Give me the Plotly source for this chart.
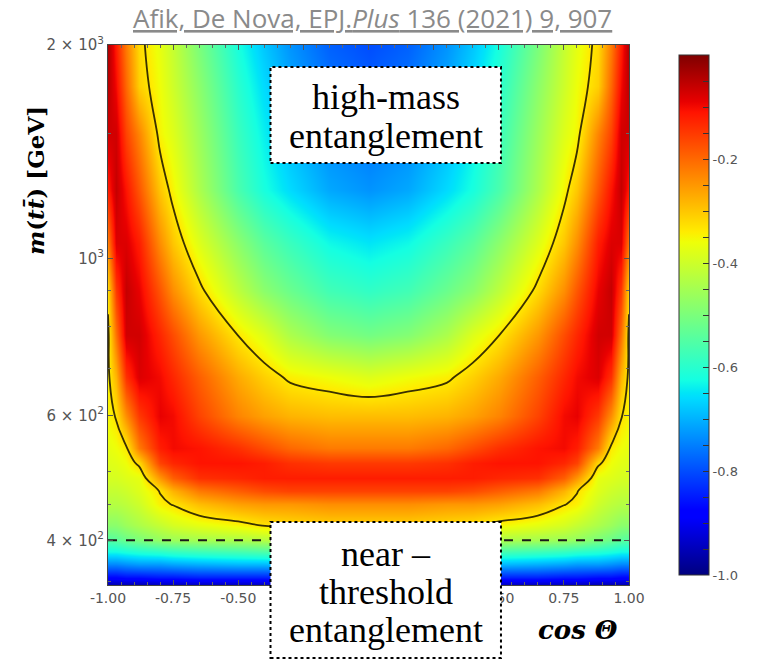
import plotly.graph_objects as go

# cos(theta) grid and invariant-mass grid (GeV)
cos_theta = [-1, -0.97, -0.93, -0.88, -0.8, -0.75, -0.65, -0.5, -0.4, -0.3, -0.15, 0,
             0.15, 0.3, 0.4, 0.5, 0.65, 0.75, 0.8, 0.88, 0.93, 0.97, 1]
mass = [346, 355, 370, 385, 400, 420, 450, 470, 490, 515, 540, 600,
        680, 780, 900, 1050, 1250, 1500, 1750, 2000]

# entanglement marker D, one row per mass value (columns follow cos_theta)
D_346 = [-0.96, -0.96, -0.96, -0.96, -0.95, -0.95, -0.95, -0.95, -0.95, -0.95, -0.95, -0.95, -0.95, -0.95, -0.95, -0.95, -0.95, -0.95, -0.95, -0.96, -0.96, -0.96, -0.96]
D_355 = [-0.87, -0.87, -0.86, -0.86, -0.85, -0.85, -0.84, -0.84, -0.84, -0.84, -0.84, -0.84, -0.84, -0.84, -0.84, -0.84, -0.84, -0.85, -0.85, -0.86, -0.86, -0.87, -0.87]
D_370 = [-0.74, -0.74, -0.73, -0.72, -0.72, -0.71, -0.70, -0.69, -0.69, -0.68, -0.68, -0.68, -0.68, -0.68, -0.69, -0.69, -0.70, -0.71, -0.72, -0.72, -0.73, -0.74, -0.74]
D_385 = [-0.63, -0.63, -0.62, -0.61, -0.60, -0.59, -0.58, -0.57, -0.56, -0.55, -0.55, -0.55, -0.55, -0.55, -0.56, -0.57, -0.58, -0.59, -0.60, -0.61, -0.62, -0.63, -0.63]
D_400 = [-0.55, -0.54, -0.52, -0.50, -0.47, -0.46, -0.45, -0.44, -0.43, -0.42, -0.42, -0.42, -0.42, -0.42, -0.43, -0.44, -0.45, -0.46, -0.47, -0.50, -0.52, -0.54, -0.55]
D_420 = [-0.48, -0.48, -0.46, -0.44, -0.41, -0.39, -0.37, -0.35, -0.33, -0.32, -0.31, -0.31, -0.31, -0.32, -0.33, -0.35, -0.37, -0.39, -0.41, -0.44, -0.46, -0.48, -0.48]
D_450 = [-0.43, -0.43, -0.42, -0.40, -0.345, -0.33, -0.29, -0.26, -0.25, -0.25, -0.24, -0.24, -0.24, -0.25, -0.25, -0.26, -0.29, -0.33, -0.345, -0.40, -0.42, -0.43, -0.43]
D_470 = [-0.41, -0.41, -0.40, -0.38, -0.33, -0.28, -0.22, -0.19, -0.17, -0.16, -0.16, -0.16, -0.16, -0.16, -0.17, -0.19, -0.22, -0.28, -0.33, -0.38, -0.40, -0.41, -0.41]
D_490 = [-0.39, -0.39, -0.38, -0.37, -0.25, -0.19, -0.14, -0.13, -0.12, -0.12, -0.12, -0.12, -0.12, -0.12, -0.12, -0.13, -0.14, -0.19, -0.25, -0.37, -0.38, -0.39, -0.39]
D_515 = [-0.38, -0.375, -0.36, -0.32, -0.16, -0.13, -0.11, -0.11, -0.12, -0.14, -0.15, -0.15, -0.15, -0.14, -0.12, -0.11, -0.11, -0.13, -0.16, -0.32, -0.36, -0.375, -0.38]
D_540 = [-0.37, -0.36, -0.34, -0.22, -0.12, -0.10, -0.11, -0.14, -0.17, -0.20, -0.22, -0.22, -0.22, -0.20, -0.17, -0.14, -0.11, -0.10, -0.12, -0.22, -0.34, -0.36, -0.37]
D_600 = [-0.35, -0.33, -0.24, -0.15, -0.09, -0.10, -0.16, -0.23, -0.26, -0.28, -0.29, -0.29, -0.29, -0.28, -0.26, -0.23, -0.16, -0.10, -0.09, -0.15, -0.24, -0.33, -0.35]
D_680 = [-0.345, -0.28, -0.14, -0.08, -0.10, -0.13, -0.19, -0.27, -0.31, -0.343, -0.36, -0.38, -0.36, -0.343, -0.31, -0.27, -0.19, -0.13, -0.10, -0.08, -0.14, -0.28, -0.345]
D_780 = [-0.345, -0.21, -0.07, -0.07, -0.13, -0.17, -0.25, -0.335, -0.38, -0.44, -0.49, -0.51, -0.49, -0.44, -0.38, -0.335, -0.25, -0.17, -0.13, -0.07, -0.07, -0.21, -0.345]
D_900 = [-0.32, -0.15, -0.06, -0.09, -0.18, -0.24, -0.32, -0.42, -0.48, -0.52, -0.57, -0.59, -0.57, -0.52, -0.48, -0.42, -0.32, -0.24, -0.18, -0.09, -0.06, -0.15, -0.32]
D_1050 = [-0.22, -0.08, -0.08, -0.12, -0.24, -0.30, -0.38, -0.48, -0.54, -0.58, -0.63, -0.65, -0.63, -0.58, -0.54, -0.48, -0.38, -0.30, -0.24, -0.12, -0.08, -0.08, -0.22]
D_1250 = [-0.12, -0.06, -0.11, -0.18, -0.30, -0.35, -0.44, -0.56, -0.62, -0.66, -0.71, -0.73, -0.71, -0.66, -0.62, -0.56, -0.44, -0.35, -0.30, -0.18, -0.11, -0.06, -0.12]
D_1500 = [-0.07, -0.07, -0.16, -0.23, -0.35, -0.38, -0.46, -0.58, -0.64, -0.69, -0.74, -0.76, -0.74, -0.69, -0.64, -0.58, -0.46, -0.38, -0.35, -0.23, -0.16, -0.07, -0.07]
D_1750 = [-0.05, -0.10, -0.20, -0.31, -0.36, -0.40, -0.48, -0.60, -0.66, -0.71, -0.76, -0.78, -0.76, -0.71, -0.66, -0.60, -0.48, -0.40, -0.36, -0.31, -0.20, -0.10, -0.05]
D_2000 = [-0.04, -0.12, -0.22, -0.32, -0.37, -0.41, -0.50, -0.62, -0.68, -0.73, -0.78, -0.80, -0.78, -0.73, -0.68, -0.62, -0.50, -0.41, -0.37, -0.32, -0.22, -0.12, -0.04]

D_grid = [D_346, D_355, D_370, D_385, D_400, D_420, D_450, D_470, D_490, D_515, D_540,
          D_600, D_680, D_780, D_900, D_1050, D_1250, D_1500, D_1750, D_2000]

entanglement_limit = -1 / 3
threshold_cut = 400

x_ticks = [-1.0, -0.75, -0.5, -0.25, 0.0, 0.25, 0.5, 0.75, 1.0]
x_ticktext = ["-1.00", "-0.75", "-0.50", "", "", "", "0.50", "0.75", "1.00"]
y_ticks = [400, 600, 1000, 2000]
y_ticktext = ["4 × 10<sup>2</sup>", "6 × 10<sup>2</sup>", "10<sup>3</sup>", "2 × 10<sup>3</sup>"]
y_minor = [350, 450, 500, 700, 800, 900, 1500]
cb_ticks = [-1.0, -0.95, -0.9, -0.85, -0.8, -0.75, -0.7, -0.65, -0.6, -0.55, -0.5,
            -0.45, -0.4, -0.35, -0.3, -0.25, -0.2, -0.15, -0.1, -0.05]
cb_ticktext = ["-1.0", "", "", "", "-0.8", "", "", "", "-0.6", "", "",
               "", "-0.4", "", "", "", "-0.2", "", "", ""]

jet = [
    [0.0, "rgb(0,0,127)"], [0.11, "rgb(0,0,255)"], [0.125, "rgb(0,0,255)"],
    [0.34, "rgb(0,219,255)"], [0.35, "rgb(0,229,247)"], [0.375, "rgb(20,255,226)"],
    [0.5, "rgb(123,255,123)"], [0.64, "rgb(238,255,8)"], [0.66, "rgb(255,236,0)"],
    [0.89, "rgb(255,19,0)"], [0.91, "rgb(232,0,0)"], [1.0, "rgb(127,0,0)"],
]

tick_font = dict(family="DejaVu Sans, sans-serif", size=14, color="#555555")
box_font = dict(family="Liberation Serif, Times New Roman, serif", size=36, color="black")
label_serif = "DejaVu Serif, serif"

# plot-area pixel frame used to place the text boxes in paper units
PX_L, PX_R, PX_T, PX_B = 108, 637, 45, 585


def px(x):
    return (x - PX_L) / (PX_R - PX_L)


def py(y):
    return (PX_B - y) / (PX_B - PX_T)


fig = go.Figure()

fig.add_trace(go.Heatmap(
    x=cos_theta, y=mass, z=D_grid,
    zmin=-1, zmax=0, zsmooth="best", colorscale=jet,
    colorbar=dict(
        thickness=30, len=1.0, lenmode="fraction", y=0.5, yanchor="middle",
        x=px(688), xanchor="left", xpad=0,
        outlinecolor="#333333", outlinewidth=1,
        tickvals=cb_ticks, ticktext=cb_ticktext,
        ticks="inside", ticklen=6, tickcolor="#333333",
        tickfont=dict(family="DejaVu Sans, sans-serif", size=13, color="#555555"),
    ),
    hoverinfo="skip",
))

fig.add_trace(go.Contour(
    x=cos_theta, y=mass, z=D_grid,
    contours=dict(start=entanglement_limit, end=entanglement_limit, size=0.1, coloring="none"),
    line=dict(color="#3a3000", width=1.8, smoothing=1.3),
    showscale=False, hoverinfo="skip",
))

fig.add_trace(go.Scatter(
    x=[cos_theta[0], cos_theta[-1]], y=[threshold_cut, threshold_cut],
    mode="lines", line=dict(color="#1a1a1a", width=2, dash="dash"),
    showlegend=False, hoverinfo="skip",
))

fig.update_xaxes(
    range=[-1, 1], tickvals=x_ticks, ticktext=x_ticktext, tickfont=tick_font,
    ticks="inside", ticklen=5, tickcolor="#555555",
    minor=dict(dtick=0.05, ticks="inside", ticklen=3, tickcolor="#666666"),
    showline=True, linecolor="#444444", linewidth=1, mirror="ticks",
    showgrid=False, zeroline=False,
)
fig.update_yaxes(
    type="log", range=[2.539, 3.301], tickvals=y_ticks, ticktext=y_ticktext,
    tickfont=dict(family="DejaVu Sans, sans-serif", size=15, color="#555555"),
    ticks="inside", ticklen=5, tickcolor="#555555",
    minor=dict(tickvals=y_minor, ticks="inside", ticklen=3, tickcolor="#666666"),
    showline=True, linecolor="#444444", linewidth=1, mirror="ticks",
    showgrid=False, zeroline=False,
)

box_lines = [
    ("high-mass", 97), ("entanglement", 136),
    ("near –", 554), ("threshold", 592), ("entanglement", 630),
]

annotations = [
    dict(text="<u>Afik, De Nova, EPJ.<i>Plus</i> 136 (2021) 9, 907</u>",
         xref="paper", yref="paper", x=px(377), y=py(18),
         showarrow=False, xanchor="center", yanchor="middle",
         font=dict(family="Open Sans, sans-serif", size=26, color="#8a8a8a")),
    dict(text="<b><i>m</i>(<i>tt̄</i>) [GeV]</b>",
         xref="paper", yref="paper", x=px(34), y=py(181),
         showarrow=False, xanchor="center", yanchor="middle", textangle=-90,
         font=dict(family=label_serif, size=23, color="black")),
    dict(text="<b><i>cos Θ</i></b>",
         xref="paper", yref="paper", x=px(585), y=py(630),
         showarrow=False, xanchor="center", yanchor="middle",
         font=dict(family=label_serif, size=26, color="black")),
]
for line_text, y_line in box_lines:
    annotations.append(dict(
        text=line_text, xref="paper", yref="paper", x=px(390), y=py(y_line),
        showarrow=False, xanchor="center", yanchor="middle", font=box_font,
    ))

fig.update_layout(
    width=757, height=662,
    margin=dict(l=PX_L, r=757 - PX_R, t=PX_T, b=662 - PX_B),
    paper_bgcolor="white", plot_bgcolor="white",
    showlegend=False,
    shapes=[
        dict(type="rect", xref="paper", yref="paper", layer="above",
             x0=px(273), x1=px(507), y0=py(163), y1=py(67),
             fillcolor="white", line=dict(color="black", width=2, dash="dot")),
        dict(type="rect", xref="paper", yref="paper", layer="above",
             x0=px(273), x1=px(507), y0=py(658), y1=py(522),
             fillcolor="white", line=dict(color="black", width=2, dash="dot")),
    ],
    annotations=annotations,
)

fig.write_html("out.html")
